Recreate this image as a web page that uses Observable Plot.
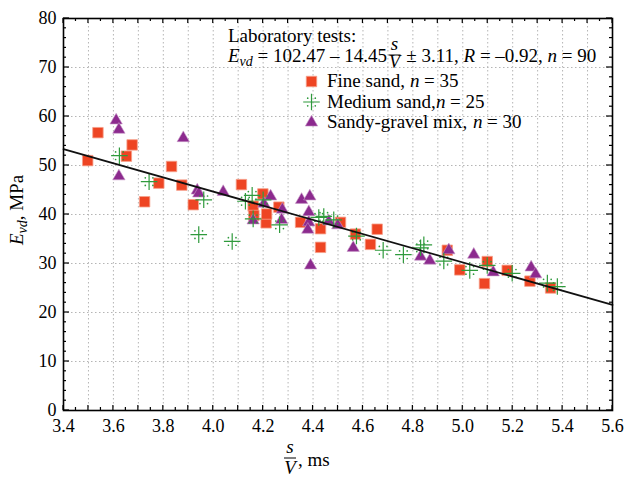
<!DOCTYPE html>
<html><head><meta charset="utf-8">
<script src="https://cdn.jsdelivr.net/npm/d3@7"></script>
<script src="https://cdn.jsdelivr.net/npm/@observablehq/plot@0.6"></script>
<style>
body{margin:0;background:#fff}
</style>
</head><body><div id="chart"></div>
<script>
// ---- data ----
const fineX = [3.497,3.538,3.652,3.675,3.725,3.782,3.833,3.874,3.920,4.113,4.160,4.163,4.199,4.212,4.214,4.263,4.350,4.430,4.430,4.510,4.570,4.630,4.657,4.938,4.988,5.087,5.098,5.178,5.269,5.352];
const fineY = [51.0,56.7,51.9,54.2,42.6,46.4,49.8,46.0,42.0,46.1,41.7,39.8,44.2,38.3,40.1,41.5,38.4,37.1,33.3,38.4,36.0,33.9,37.0,32.7,28.7,25.9,30.4,28.6,26.4,25.0];
const mediumX = [3.624,3.743,3.942,3.962,4.076,4.129,4.156,4.160,4.200,4.266,4.423,4.443,4.483,4.574,4.681,4.762,4.831,4.844,4.924,5.028,5.098,5.198,5.339,5.379];
const mediumY = [52.0,46.7,35.9,43.0,34.5,42.7,43.9,39.1,43.0,37.9,39.4,39.6,38.9,35.6,32.7,31.8,33.2,33.8,30.5,28.6,29.6,28.0,26.0,25.3];
const gravelX = [3.611,3.622,3.622,3.880,3.936,3.942,4.040,4.160,4.203,4.230,4.277,4.274,4.354,4.387,4.383,4.383,4.379,4.390,4.463,4.499,4.561,4.831,4.868,4.944,5.044,5.122,5.274,5.292];
const gravelY = [59.2,57.3,47.8,55.6,44.9,44.3,44.6,38.8,42.2,43.7,41.0,38.9,43.0,43.7,40.5,38.4,36.9,29.6,38.6,37.8,33.2,31.4,30.6,32.7,31.8,28.2,29.2,27.8];
const fitRange = [3.4, 5.6];
const fitA = 102.47, fitB = -14.45;
const xTickVals = [3.4,3.6,3.8,4.0,4.2,4.4,4.6,4.8,5.0,5.2,5.4,5.6];
const xTickLabels = ["3.4","3.6","3.8","4.0","4.2","4.4","4.6","4.8","5.0","5.2","5.4","5.6"];
const xGridVals = [3.5,3.6,3.7,3.8,3.9,4.0,4.1,4.2,4.3,4.4,4.5,4.6,4.7,4.8,4.9,5.0,5.1,5.2,5.3,5.4,5.5];
const yTickVals = [0,10,20,30,40,50,60,70,80];
const seriesNames = ["Fine sand,", "Medium sand,", "Sandy-gravel mix,"];
const seriesN = [35, 25, 30];

const RED = "#ee4523", GREEN = "#2f9a3c", PURPLE = "#8c2a8e";
const SERIF = '"Liberation Serif","Times New Roman",serif';

const fine = fineX.map((x,i)=>({x, y:fineY[i]}));
const medium = mediumX.map((x,i)=>({x, y:mediumY[i]}));
const gravel = gravelX.map((x,i)=>({x, y:gravelY[i]}));
const fit = fitRange.map(x=>({x, y: fitA + fitB*x}));
const xTicks = xTickVals.map((v,i)=>({v, label:xTickLabels[i]}));

const dotOff = [[-3.8,-3.8],[3.8,-3.8],[-3.8,3.8],[3.8,3.8]];
const legendDX = 248, legendDY0 = 63, legendStep = 20.5;

const plot = Plot.plot({
  width: 624, height: 484,
  marginLeft: 63, marginRight: 12, marginTop: 18, marginBottom: 74,
  style: {background: "#fff", color: "#000", overflow: "visible"},
  x: {domain: [3.4, 5.6], axis: null},
  y: {domain: [0, 80], axis: null},
  marks: [
    Plot.ruleX(xGridVals, {stroke: "#b5b5b5", strokeWidth: 1, strokeDasharray: "1.5,2.5"}),
    Plot.ruleY(yTickVals.slice(1,-1), {stroke: "#b5b5b5", strokeWidth: 1, strokeDasharray: "1.5,2.5"}),
    Plot.dot(fine, {x:"x", y:"y", symbol:"square", r:5.9, fill:RED, stroke:"#f6a08a", strokeWidth:0.8}),
    Plot.dot(gravel, {x:"x", y:"y", symbol:"triangle", r:4.6, fill:PURPLE, stroke:"#c79ac8", strokeWidth:0.6}),
    Plot.dot(medium, {x:"x", y:"y", symbol:"plus", r:5.4, stroke:GREEN, strokeWidth:1.2}),
    ...dotOff.map(([dx,dy]) => Plot.dot(medium, {x:"x", y:"y", dx, dy, r:0.85, fill:GREEN})),
    Plot.line(fit, {x:"x", y:"y", stroke:"#111", strokeWidth:1.7}),
    Plot.frame({stroke:"#000", strokeWidth:1.6}),
    // tick labels through the scales
    Plot.text(xTicks, {x:"v", text:"label", frameAnchor:"bottom", dy:21, fontFamily:SERIF, fontSize:18, fill:"#000"}),
    Plot.text(yTickVals, {y:d=>d, text:d=>String(d), frameAnchor:"left", dx:-7, textAnchor:"end", fontFamily:SERIF, fontSize:18, fill:"#000"}),
    // legend markers
    Plot.dot([0], {frameAnchor:"top-left", dx:legendDX, dy:legendDY0, symbol:"square", r:5.9, fill:RED, stroke:"#f6a08a", strokeWidth:0.8}),
    Plot.dot([0], {frameAnchor:"top-left", dx:legendDX, dy:legendDY0+legendStep, symbol:"plus", r:5.4, stroke:GREEN, strokeWidth:1.2}),
    ...dotOff.map(([a,b]) => Plot.dot([0], {frameAnchor:"top-left", dx:legendDX+a, dy:legendDY0+legendStep+b, r:0.85, fill:GREEN})),
    Plot.dot([0], {frameAnchor:"top-left", dx:legendDX, dy:legendDY0+2*legendStep, symbol:"triangle", r:4.6, fill:PURPLE, stroke:"#c79ac8", strokeWidth:0.6})
  ]
});
document.getElementById("chart").appendChild(plot);
const svg = d3.select(plot);

// ---- inward ticks using the plot's scales ----
const sx = plot.scale("x"), sy = plot.scale("y");
const L = sx.apply(3.4), R = sx.apply(5.6), B = sy.apply(0), T = sy.apply(80);
const tg = svg.append("g").attr("stroke", "#000").attr("stroke-width", 1.2);
for (let i = 0; i <= 44; i++) {
  const v = 3.4 + i*0.05, px = sx.apply(v), len = (i % 2 === 0) ? 5 : 3;
  tg.append("line").attr("x1", px).attr("x2", px).attr("y1", B).attr("y2", B - len);
  tg.append("line").attr("x1", px).attr("x2", px).attr("y1", T).attr("y2", T + len);
}
for (let v = 0; v <= 80; v += 2) {
  const py = sy.apply(v), len = (v % 10 === 0) ? 6 : 3;
  tg.append("line").attr("x1", L).attr("x2", L + len).attr("y1", py).attr("y2", py);
  tg.append("line").attr("x1", R).attr("x2", R - len).attr("y1", py).attr("y2", py);
}

// ---- texts ----
const txt = svg.append("g").attr("fill", "#000").attr("font-size", 19).attr("text-anchor", "start").attr("font-family", SERIF);

txt.append("text").attr("x", 228).attr("y", 42).text("Laboratory tests:");

const eq = txt.append("text").attr("x", 228).attr("y", 62);
eq.append("tspan").attr("font-style", "italic").text("E");
eq.append("tspan").attr("font-style", "italic").attr("font-size", 14).attr("dy", 4).text("vd");
eq.append("tspan").attr("dy", -4).text(" = 102.47 \u2013 14.45");
const w1 = eq.node().getComputedTextLength();
const fx = 228 + w1 + 1.5;
txt.append("text").attr("x", fx + 6).attr("y", 50).attr("text-anchor", "middle").attr("font-style", "italic").text("s");
txt.append("line").attr("x1", fx).attr("x2", fx + 12).attr("y1", 55).attr("y2", 55).attr("stroke", "#000").attr("stroke-width", 1);
txt.append("text").attr("x", fx + 6).attr("y", 68).attr("text-anchor", "middle").attr("font-style", "italic").attr("font-size", 18).text("V");
const eq2 = txt.append("text").attr("x", fx + 13).attr("y", 62);
eq2.append("tspan").text(" \u00b1 3.11, ");
eq2.append("tspan").attr("font-style", "italic").text("R");
eq2.append("tspan").text(" = \u20130.92, ");
eq2.append("tspan").attr("font-style", "italic").text("n");
eq2.append("tspan").text(" = 90");

const nX = [410, 436, 473];
seriesNames.forEach((name, i) => {
  const yb = 18 + legendDY0 + i*legendStep + 6;
  txt.append("text").attr("x", 327).attr("y", yb).text(name);
  txt.append("text").attr("x", nX[i]).attr("y", yb).attr("font-style", "italic").text("n");
  txt.append("text").attr("x", nX[i] + 14).attr("y", yb).text("= " + seriesN[i]);
});

// y label
const yl = txt.append("text").attr("transform", "translate(23,210) rotate(-90)").attr("text-anchor", "middle");
yl.append("tspan").attr("font-style", "italic").text("E");
yl.append("tspan").attr("font-style", "italic").attr("font-size", 14).attr("dy", 4).text("vd");
yl.append("tspan").attr("dy", -4).text(", MPa");

// x label
txt.append("text").attr("x", 290).attr("y", 453).attr("text-anchor", "middle").attr("font-style", "italic").text("s");
txt.append("line").attr("x1", 284).attr("x2", 296).attr("y1", 458).attr("y2", 458).attr("stroke", "#000").attr("stroke-width", 1);
txt.append("text").attr("x", 290).attr("y", 474).attr("text-anchor", "middle").attr("font-style", "italic").text("V");
txt.append("text").attr("x", 298).attr("y", 466).text(", ms");
</script>
</body></html>
